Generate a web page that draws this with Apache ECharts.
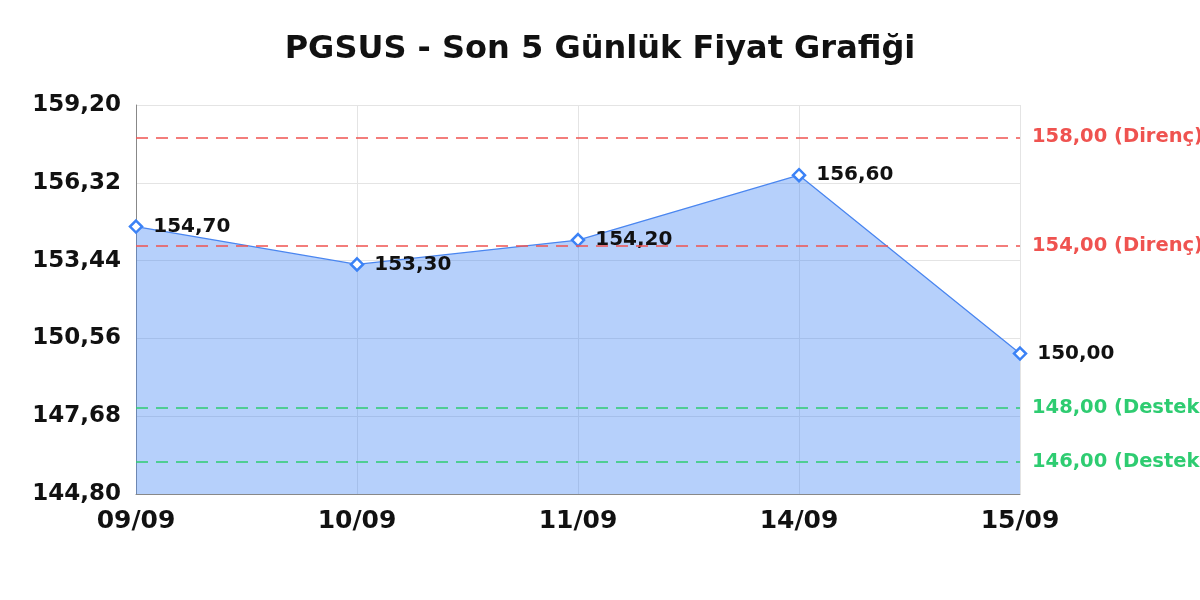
<!DOCTYPE html>
<html><head><meta charset="utf-8">
<script src="https://cdn.jsdelivr.net/npm/echarts@6/dist/echarts.min.js"></script>
<style>html,body{margin:0;padding:0;background:#fff}#c{width:1200px;height:600px}</style>
</head><body><div id="c"></div>
<script>
const categories = ['09/09','10/09','11/09','14/09','15/09'];
const prices = [154.70, 153.30, 154.20, 156.60, 150.00];
const resistance = [158.00, 154.00];
const support = [148.00, 146.00];
const yMin = 144.80, yMax = 159.20, yStep = 2.88;

const fmt = v => v.toFixed(2).replace('.', ',');
const FONT = 'DejaVu Sans';

const markData = [];
resistance.forEach(v => markData.push({yAxis: v, lineStyle:{color:'#ef5350'}, label:{color:'#ef5350', formatter: fmt(v)+' (Direnç)'}}));
support.forEach(v => markData.push({yAxis: v, lineStyle:{color:'#2ecc71'}, label:{color:'#2ecc71', formatter: fmt(v)+' (Destek)'}}));

const chart = echarts.init(document.getElementById('c'));
chart.setOption({
  animation:false,
  title:{text:'PGSUS - Son 5 Günlük Fiyat Grafiği', left:'center', top:29,
    textStyle:{fontFamily:FONT, fontSize:32, fontWeight:'bold', color:'#111'}},
  grid:{left:136, right:180, top:105, bottom:106},
  xAxis:{type:'category', data:categories, boundaryGap:false,
    axisLine:{lineStyle:{color:'#888'}}, axisTick:{show:false},
    axisLabel:{fontFamily:FONT, fontSize:25, fontWeight:'bold', color:'#111', margin:15},
    splitLine:{show:true, lineStyle:{color:'#e4e4e4'}}},
  yAxis:{type:'value', min:yMin, max:yMax, interval:yStep,
    axisLine:{show:true, lineStyle:{color:'#888'}}, axisTick:{show:false},
    axisLabel:{fontFamily:FONT, fontSize:23, fontWeight:'bold', color:'#111', margin:15, formatter:fmt},
    splitLine:{lineStyle:{color:'#e4e4e4'}}},
  series:[{type:'line', data:prices, symbol:'diamond', symbolSize:12,
    itemStyle:{color:'#fff', borderColor:'#3b82f6', borderWidth:2.5},
    lineStyle:{color:'#4a86f0', width:1.3},
    areaStyle:{color:'rgba(66,133,244,0.39)', opacity:1},
    label:{show:true, position:'right', distance:10, formatter:p=>fmt(p.value),
      fontFamily:FONT, fontSize:20, fontWeight:'bold', color:'#111'},
    markLine:{symbol:'none', silent:true,
      lineStyle:{type:[12,8], width:1.5},
      label:{position:'end', distance:12, fontFamily:FONT, fontSize:19.5, fontWeight:'bold'},
      data:markData}
  }]
});
</script></body></html>
